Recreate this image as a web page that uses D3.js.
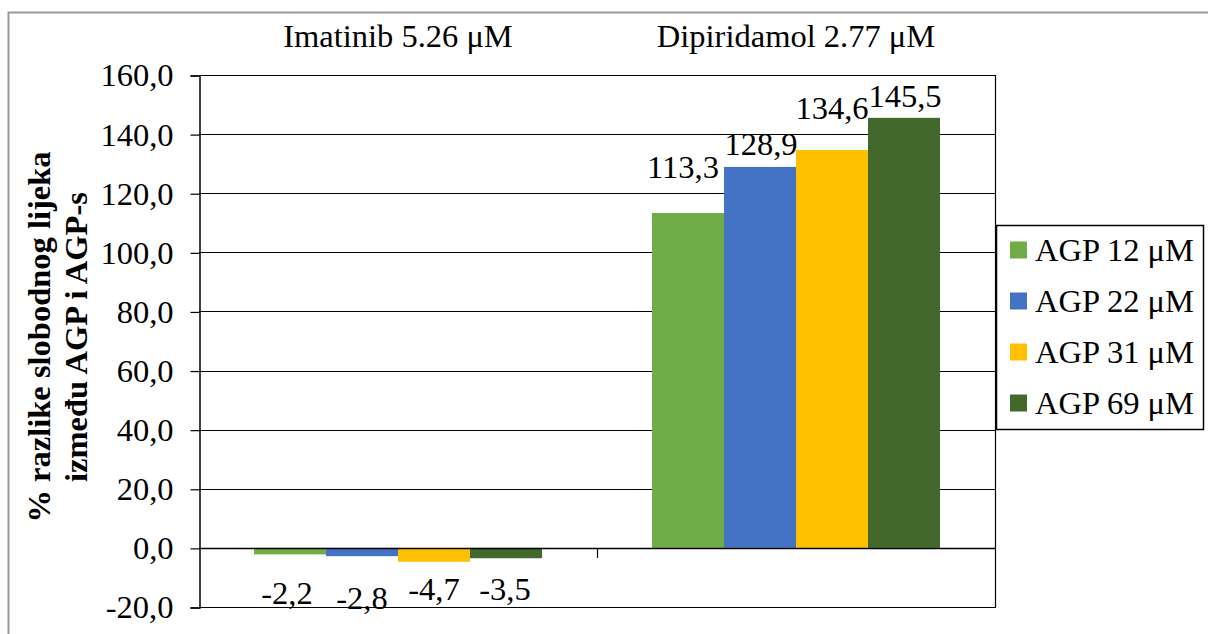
<!DOCTYPE html>
<html>
<head>
<meta charset="utf-8">
<script src="https://cdn.jsdelivr.net/npm/d3@7"></script>
<style>
  html, body { margin: 0; padding: 0; background: #fff; }
  svg text { font-family: "Liberation Serif", "Times New Roman", serif; fill: #000; }
</style>
</head>
<body>
<svg id="chart" width="1208" height="634"></svg>
<script>
// ---- data ----
const categories = ["Imatinib 5.26 \u03bcM", "Dipiridamol 2.77 \u03bcM"];
const seriesNames = ["AGP 12 \u03bcM", "AGP 22 \u03bcM", "AGP 31 \u03bcM", "AGP 69 \u03bcM"];
const agp12 = [-2.2, 113.3];
const agp22 = [-2.8, 128.9];
const agp31 = [-4.7, 134.6];
const agp69 = [-3.5, 145.5];
const yTicks = [-20, 0, 20, 40, 60, 80, 100, 120, 140, 160];
const yTitleLines = ["% razlike slobodnog lijeka", "izme\u0111u AGP i AGP-s"];

// ---- style / layout ----
const colors = ["#70AD47", "#4472C4", "#FFC000", "#43682B"];
// manual label nudges [series][category] in px (dx, dy) as placed in the original
const labelDx = [[-3, -5], [0, 1], [0, 0], [-1, 1]];
const labelDy = [[49.5, -35], [52.5, -12], [38, -31], [41.5, -11]];
const FONT = 32.5;

const fmt = v => d3.format(".1f")(v).replace(".", ",").replace("\u2212", "-");

const svg = d3.select("#chart");
const plot = { left: 199, right: 995, top: 75, bottom: 607 };

const seriesValues = [agp12, agp22, agp31, agp69];

const x0 = d3.scaleBand().domain(categories).range([plot.left, plot.right]).padding(0);
const groupW = 288;
const x1 = d3.scaleBand().domain(seriesNames).range([0, groupW]).padding(0);
const y = d3.scaleLinear().domain([-20, 160]).range([plot.bottom, plot.top]);

// outer border
svg.append("rect")
  .attr("x", 8.5).attr("y", 12.5)
  .attr("width", 1230).attr("height", 660)
  .attr("fill", "none").attr("stroke", "#9a9a9a").attr("stroke-width", 2);

// gridlines
svg.append("g").selectAll("line").data(yTicks).join("line")
  .attr("x1", plot.left).attr("x2", plot.right)
  .attr("y1", d => Math.round(y(d)) + 0.5).attr("y2", d => Math.round(y(d)) + 0.5)
  .attr("stroke", "#000").attr("stroke-width", 1.2);

// right border of plot
svg.append("line")
  .attr("x1", plot.right + 0.5).attr("x2", plot.right + 0.5)
  .attr("y1", plot.top).attr("y2", plot.bottom + 1)
  .attr("stroke", "#000").attr("stroke-width", 1.2);

// y axis
const yAxis = d3.axisLeft(y).tickValues(yTicks).tickSize(9).tickPadding(17).tickFormat(fmt);
const gy = svg.append("g").attr("transform", `translate(${plot.left + 0.5},0.5)`).call(yAxis);
gy.select(".domain").attr("stroke", "#000").attr("stroke-width", 1.5);
gy.selectAll(".tick line").attr("stroke", "#000").attr("stroke-width", 1.2);
gy.selectAll(".tick text")
  .style("font-family", '"Liberation Serif", serif').style("font-size", FONT + "px").attr("fill", "#000");

// bars
const groups = svg.append("g").selectAll("g").data(categories).join("g")
  .attr("transform", c => `translate(${x0(c) + x0.bandwidth() / 2 - groupW / 2},0)`);

groups.selectAll("rect")
  .data((c, ci) => seriesValues.map((vals, si) => ({ si, ci, v: vals[ci] })))
  .join("rect")
  .attr("x", d => x1(seriesNames[d.si]))
  .attr("width", x1.bandwidth())
  .attr("y", d => y(Math.max(0, d.v)))
  .attr("height", d => Math.abs(y(d.v) - y(0)))
  .attr("fill", d => colors[d.si]);

// category axis at 0
svg.append("line")
  .attr("x1", plot.left).attr("x2", plot.right)
  .attr("y1", Math.round(y(0)) + 0.5).attr("y2", Math.round(y(0)) + 0.5)
  .attr("stroke", "#000").attr("stroke-width", 1.3);
// category boundary tick marks
const boundaries = categories.slice(1).map(c => x0(c));
svg.append("g").selectAll("line").data(boundaries).join("line")
  .attr("x1", d => d + 0.5).attr("x2", d => d + 0.5)
  .attr("y1", y(0)).attr("y2", y(0) + 10)
  .attr("stroke", "#000").attr("stroke-width", 1.2);

// category labels on top
svg.append("g").selectAll("text").data(categories).join("text")
  .attr("x", c => x0(c) + x0.bandwidth() / 2)
  .attr("y", 47)
  .attr("text-anchor", "middle")
  .style("font-size", FONT + "px")
  .text(c => c);

// data labels
groups.selectAll("text.lbl")
  .data((c, ci) => seriesValues.map((vals, si) => ({ si, ci, v: vals[ci] })))
  .join("text").attr("class", "lbl")
  .attr("x", d => x1(seriesNames[d.si]) + x1.bandwidth() / 2 + labelDx[d.si][d.ci])
  .attr("y", d => y(d.v) + labelDy[d.si][d.ci])
  .attr("text-anchor", "middle")
  .style("font-size", FONT + "px")
  .text(d => fmt(d.v));

// y-axis title
const titleX = [50, 87];
svg.append("g").selectAll("text").data(yTitleLines).join("text")
  .attr("transform", (t, i) => `translate(${titleX[i]},337) rotate(-90)`)
  .attr("text-anchor", "middle")
  .style("font-size", FONT + "px")
  .style("font-weight", "bold")
  .text(t => t);

// legend
const leg = svg.append("g");
leg.append("rect")
  .attr("x", 996.5).attr("y", 225.5).attr("width", 207).attr("height", 204)
  .attr("fill", "#fff").attr("stroke", "#000").attr("stroke-width", 1.5);
const rowY = d3.scalePoint().domain(seriesNames).range([250, 403]);
const items = leg.selectAll("g.item").data(seriesNames).join("g").attr("class", "item")
  .attr("transform", s => `translate(0,${rowY(s)})`);
items.append("rect")
  .attr("x", 1010).attr("y", -8.5).attr("width", 17).attr("height", 17)
  .attr("fill", (s, i) => colors[i]);
items.append("text")
  .attr("x", 1035).attr("y", 11)
  .style("font-size", FONT + "px")
  .text(s => s);
</script>
</body>
</html>
